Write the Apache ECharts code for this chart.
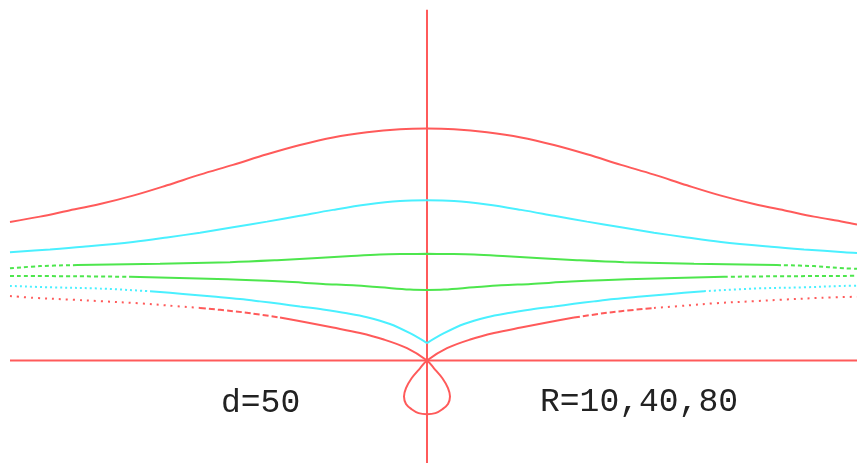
<!DOCTYPE html>
<html>
<head>
<meta charset="utf-8">
<title>conchoid</title>
<script src="https://cdn.jsdelivr.net/npm/echarts@6/dist/echarts.min.js"></script>
<style>
  html, body { margin: 0; padding: 0; background: #fff; }
  #chart { width: 857px; height: 463px; }
</style>
</head>
<body>
<div id="chart"></div>
<script>
'use strict';

//坐标范围
var xMin = -213.5, xMax = 215;
var yMin = -57.6, yMax = 202.5;

//坐标轴线
var hLine = [[-208.5, 0], [215, 0]];
var vLine = [[0, -57.6], [0, 197]];

//R=80 上支
var redUpper = [[-208.5,77.8],[-193.5,80.8],[-180,84.0],[-163.5,87.9],[-147,92.6],[-130,98.4],[-113.5,104.4],[-97,109.9],[-80,115.8],[-63.5,121.0],[-47,125.3],[-30,128.2],[-13.5,129.9],[0,130.3],
  [13.5,129.9],[30,128.2],[47,125.3],[63.5,121.0],[80,115.8],[97,109.9],[113.5,104.4],[130,98.4],[147,92.6],[163.5,87.9],[180,84.0],[193.5,80.8],[208.5,77.8],[215,76.3]];

//R=40 上支
var cyanUpper = [[-208.5,60.8],[-188.5,62.4],[-172,63.9],[-147,66.6],[-130,69.1],[-113.5,71.8],[-97,74.8],[-80,78.0],[-63.5,81.3],[-47,84.6],[-30,87.6],[-13.5,89.6],[0,90.0],
  [13.5,89.6],[30,87.6],[47,84.6],[63.5,81.3],[80,78.0],[97,74.8],[113.5,71.8],[130,69.1],[147,66.6],[172,63.9],[188.5,62.4],[208.5,60.8],[215,60.4]];

//R=10 上支
var greenUpper = [[-208.5,51.8],[-193.5,53.0],[-175,53.6],[-133.5,54.3],[-98.5,55.2],[-75,56.3],[-57,57.4],[-40,58.5],[-23.5,59.5],[-10,59.8],[0,59.9],
  [10,59.8],[23.5,59.5],[40,58.5],[57,57.4],[75,56.3],[98.5,55.2],[133.5,54.3],[175,53.6],[193.5,53.0],[208.5,51.8],[215,51.5]];

//R=10 下支
var greenLower = [[-208.5,47.5],[-175,47.3],[-148.5,47.0],[-100,45.6],[-72,44.3],[-52,43.0],[-37,42.2],[-23.5,41.1],[-8.5,39.8],[0,39.6],
  [8.5,39.8],[23.5,41.1],[37,42.2],[52,43.0],[72,44.3],[100,45.6],[148.5,47.0],[175,47.3],[208.5,47.5],[215,47.6]];

//R=40 下支（中间尖点）
var cyanLower = [[-208.5,41.9],[-188.5,41.1],[-163.5,40.4],[-138.5,38.9],[-122,37.4],[-107,35.9],[-93.5,34.5],[-83.5,33.2],[-73.5,31.8],[-63.5,30.3],[-52,28.6],[-40,26.5],[-30,24.3],[-18.5,20.5],[-8.5,15.3],[0,9.8],
  [8.5,15.3],[18.5,20.5],[30,24.3],[40,26.5],[52,28.6],[63.5,30.3],[73.5,31.8],[83.5,33.2],[93.5,34.5],[107,35.9],[122,37.4],[138.5,38.9],[163.5,40.4],[188.5,41.1],[208.5,41.9],[215,42.0]];

//R=80 下支（含小圈）
var redLower = [[-208.5,36.2],[-197,35.2],[-177,34.1],[-163.5,33.3],[-143.5,32.1],[-130,30.9],[-113.5,29.5],[-97,27.7],[-88,26.5],[-73.5,24.1],[-60,21.3],[-47,18.5],[-33.5,15.4],[-22,11.9],[-10,6.9],[0,0],
  [3.5,-4.4],[7.7,-10.0],[10.5,-15.6],[11.5,-20.3],[10.5,-24.4],[7.7,-27.4],[4.2,-29.6],[0,-30.2],[-4.2,-29.6],[-7.7,-27.4],[-10.5,-24.4],[-11.5,-20.3],[-10.5,-15.6],[-7.7,-10.0],[-3.5,-4.4],
  [0,0],[10,6.9],[22,11.9],[33.5,15.4],[47,18.5],[60,21.3],[73.5,24.1],[88,26.5],[97,27.7],[113.5,29.5],[130,30.9],[143.5,32.1],[163.5,33.3],[177,34.1],[197,35.2],[215,35.8]];

//虚线起点
var greenUpperCut = 175;
var greenLowerCut = 148.5;
var cyanLowerCut = 138.5;
var redLowerCut = 73.5;
var redLowerFar = 113.5;

var RED = '#ff5a5a', CYAN = '#4af0ff', GREEN = '#4de64d';

//取区间内的点
function pick(data, a, b) {
  return data.filter(function (p) { return p[0] >= a && p[0] <= b; });
}

function line(data, color, dash, smooth) {
  return {
    type: 'line',
    data: data,
    symbol: 'none',
    silent: true,
    smooth: smooth === undefined ? 0.35 : smooth,
    lineStyle: { color: color, width: 2, type: dash || 'solid', cap: 'butt' }
  };
}

var series = [
  line(hLine, RED, null, false),
  line(vLine, RED, null, false),
  line(redUpper, RED),
  line(cyanUpper, CYAN),
  line(pick(greenUpper, -greenUpperCut, greenUpperCut), GREEN),
  line(pick(greenUpper, -999, -greenUpperCut), GREEN, [4, 3]),
  line(pick(greenUpper, greenUpperCut, 999), GREEN, [4, 3]),
  line(pick(greenLower, -greenLowerCut, greenLowerCut), GREEN),
  line(pick(greenLower, -999, -greenLowerCut), GREEN, [4, 3]),
  line(pick(greenLower, greenLowerCut, 999), GREEN, [4, 3]),
  //尖点两侧分开画
  line(pick(cyanLower, -cyanLowerCut, 0), CYAN),
  line(pick(cyanLower, 0, cyanLowerCut), CYAN),
  line(pick(cyanLower, -999, -cyanLowerCut), CYAN, [2, 3]),
  line(pick(cyanLower, cyanLowerCut, 999), CYAN, [2, 3]),
  line(pick(redLower, -redLowerCut, redLowerCut), RED),
  line(pick(redLower, -redLowerFar, -redLowerCut), RED, [6, 3]),
  line(pick(redLower, redLowerCut, redLowerFar), RED, [6, 3]),
  line(pick(redLower, -999, -redLowerFar), RED, [2, 5]),
  line(pick(redLower, redLowerFar, 999), RED, [2, 5])
];

var chart = echarts.init(document.getElementById('chart'));
var option = {
  animation: false,
  backgroundColor: '#fff',
  grid: { left: 0, right: 0, top: 0, bottom: 0 },
  xAxis: { type: 'value', min: xMin, max: xMax, show: false },
  yAxis: { type: 'value', min: yMin, max: yMax, show: false },
  graphic: [
    { type: 'text', left: 221, top: 387, style: { text: 'd=50', font: '33px "Liberation Mono"', fill: '#222' } },
    { type: 'text', left: 540, top: 386, style: { text: 'R=10,40,80', font: '33px "Liberation Mono"', fill: '#222' } }
  ],
  series: series
};
chart.setOption(option);
</script>
</body>
</html>
